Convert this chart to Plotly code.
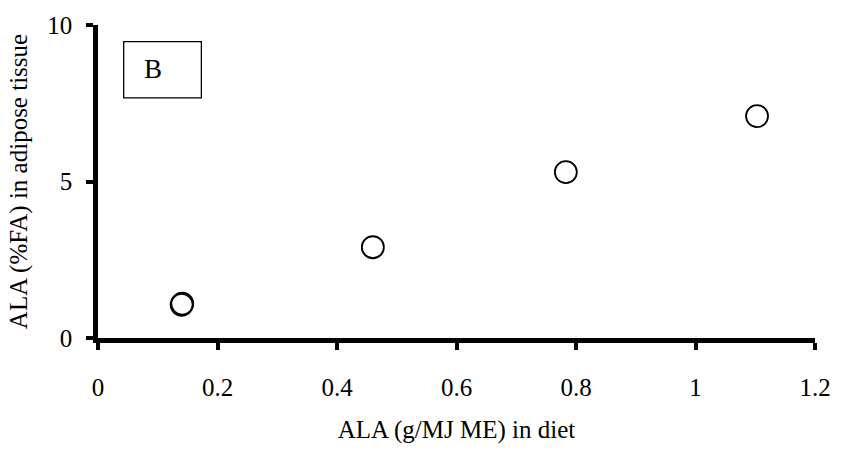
import plotly.graph_objects as go

# Data
ala_diet = [0.14, 0.141, 0.46, 0.783, 1.103]
ala_tissue = [1.06, 1.10, 2.9, 5.3, 7.09]
x_ticks = [0, 0.2, 0.4, 0.6, 0.8, 1.0, 1.2]
x_tick_labels = ["0", "0.2", "0.4", "0.6", "0.8", "1", "1.2"]
y_ticks = [0, 5, 10]
y_tick_labels = ["0", "5", "10"]
panel_label = "B"

FONT = "Liberation Serif, Times New Roman, serif"

fig = go.Figure()
fig.add_trace(go.Scatter(
    x=ala_diet, y=ala_tissue, mode="markers",
    marker=dict(symbol="circle-open", size=22, color="black", line=dict(width=1.8, color="black")),
    cliponaxis=False, showlegend=False,
))

fig.add_shape(type="rect", xref="x", yref="y", x0=0.043, x1=0.173, y0=7.67, y1=9.47,
              line=dict(color="black", width=1.3), fillcolor="rgba(0,0,0,0)")
fig.add_annotation(x=0.092, y=8.58, xref="x", yref="y", text=panel_label, showarrow=False,
                   font=dict(family=FONT, size=27, color="black"))

fig.update_layout(
    width=843, height=452,
    margin=dict(l=98, r=25, t=21, b=104),
    paper_bgcolor="white", plot_bgcolor="white",
    font=dict(family=FONT, size=25, color="black"),
    xaxis=dict(
        range=[0, 1.2], tickvals=x_ticks, ticktext=x_tick_labels,
        showgrid=False, zeroline=False, showline=True, linecolor="black", linewidth=4.5,
        ticks="outside", ticklen=7, tickwidth=3.5, tickcolor="black",
        ticklabelstandoff=16,
        title=dict(text="ALA (g/MJ ME) in diet", standoff=22, font=dict(size=25)),
    ),
    yaxis=dict(
        range=[0, 10], tickvals=y_ticks, ticktext=y_tick_labels,
        showgrid=False, zeroline=False, showline=True, linecolor="black", linewidth=4.5,
        ticks="outside", ticklen=7, tickwidth=3.5, tickcolor="black",
        ticklabelstandoff=9,
        title=dict(text="ALA (%FA) in adipose tissue", standoff=14, font=dict(size=25)),
    ),
)

fig.write_html("out.html")
